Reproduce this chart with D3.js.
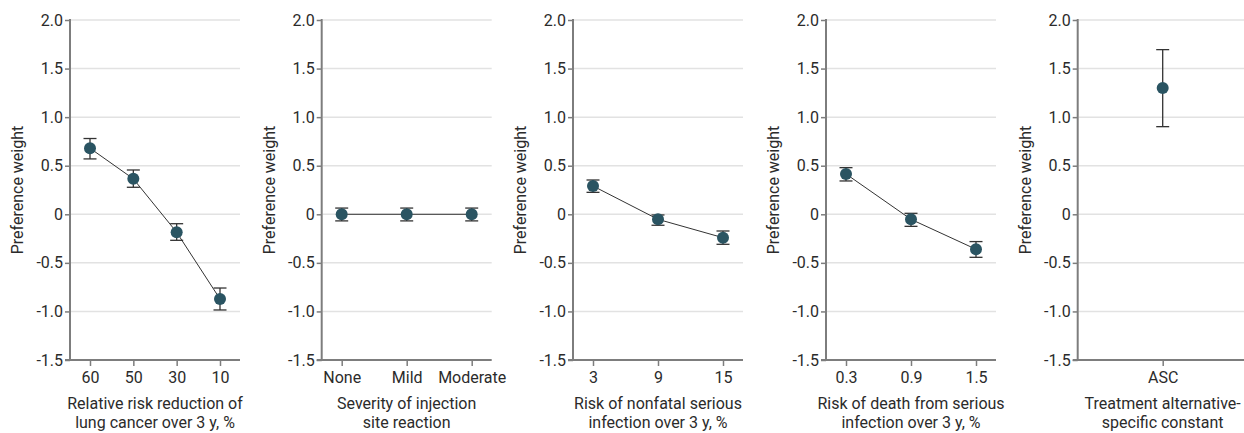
<!DOCTYPE html>
<html>
<head>
<meta charset="utf-8">
<script src="https://cdn.jsdelivr.net/npm/d3@7/dist/d3.min.js"></script>
<style>
  html, body { margin: 0; padding: 0; background: #fff; }
  svg { display: block; }
  text { font-family: Roboto, "Open Sans", sans-serif; fill: #2b2b2b; }
</style>
</head>
<body>
<svg id="chart" width="1244" height="433"></svg>
<script>
// ---- Data ----
const yTicks = [2.0, 1.5, 1.0, 0.5, 0, -0.5, -1.0, -1.5];
const yTickLabels = ["2.0", "1.5", "1.0", "0.5", "0", "-0.5", "-1.0", "-1.5"];

const p1Categories = ["60", "50", "30", "10"];
const p1Values = [0.68, 0.365, -0.185, -0.872];
const p1Lower = [0.57, 0.278, -0.268, -0.985];
const p1Upper = [0.78, 0.456, -0.097, -0.759];
const p1Title = ["Relative risk reduction of", "lung cancer over 3 y, %"];

const p2Categories = ["None", "Mild", "Moderate"];
const p2Values = [0, 0, 0];
const p2Lower = [-0.068, -0.068, -0.068];
const p2Upper = [0.064, 0.064, 0.064];
const p2Title = ["Severity of injection", "site reaction"];

const p3Categories = ["3", "9", "15"];
const p3Values = [0.291, -0.052, -0.241];
const p3Lower = [0.226, -0.113, -0.309];
const p3Upper = [0.353, -0.007, -0.172];
const p3Title = ["Risk of nonfatal serious", "infection over 3 y, %"];

const p4Categories = ["0.3", "0.9", "1.5"];
const p4Values = [0.415, -0.052, -0.36];
const p4Lower = [0.343, -0.124, -0.443];
const p4Upper = [0.48, 0.01, -0.281];
const p4Title = ["Risk of death from serious", "infection over 3 y, %"];

const p5Categories = ["ASC"];
const p5Values = [1.30];
const p5Lower = [0.902];
const p5Upper = [1.695];
const p5Title = ["Treatment alternative-", "specific constant"];

const panels = [
  { cats: p1Categories, vals: p1Values, lo: p1Lower, hi: p1Upper, title: p1Title, line: true },
  { cats: p2Categories, vals: p2Values, lo: p2Lower, hi: p2Upper, title: p2Title, line: true },
  { cats: p3Categories, vals: p3Values, lo: p3Lower, hi: p3Upper, title: p3Title, line: true },
  { cats: p4Categories, vals: p4Values, lo: p4Lower, hi: p4Upper, title: p4Title, line: true },
  { cats: p5Categories, vals: p5Values, lo: p5Lower, hi: p5Upper, title: p5Title, line: false }
];

// ---- Layout ----
const svg = d3.select("#chart");
const panelLefts = [70, 321.7, 573, 826, 1077.7];
const panelWidth = 170;
const plotTop = 20, plotBottom = 360;
const dotColor = "#2a5462";
const axisColor = "#7d7d7d";
const gridColor = "#e2e2e2";
const barColor = "#333";
const fontSize = "16px";

const y = d3.scaleLinear().domain([-1.5, 2.0]).range([plotBottom, plotTop]);

panels.forEach((p, i) => {
  const g = svg.append("g").attr("transform", `translate(${panelLefts[i]},0)`);
  const x = d3.scalePoint().domain(p.cats).range(p.cats.length > 1 ? [20, 150] : [85, 85]);

  // grid lines
  g.selectAll("line.grid").data(yTicks.filter(t => t !== -1.5)).enter().append("line")
    .attr("class", "grid")
    .attr("x1", 1).attr("x2", panelWidth)
    .attr("y1", d => y(d)).attr("y2", d => y(d))
    .attr("stroke", gridColor).attr("stroke-width", 1.5);

  // y axis
  const yAxis = d3.axisLeft(y).tickValues(yTicks)
    .tickFormat((d, k) => yTickLabels[k]).tickSize(5).tickPadding(2);
  const ya = g.append("g").call(yAxis);
  ya.select(".domain").remove();
  ya.selectAll(".tick line").attr("stroke", axisColor).attr("stroke-width", 1.5);
  ya.selectAll(".tick text").style("font-size", fontSize).attr("fill", "#2b2b2b")
    .style("font-family", "Roboto, sans-serif");

  g.append("line").attr("x1", 0).attr("x2", 0).attr("y1", plotTop - 1).attr("y2", plotBottom)
    .attr("stroke", axisColor).attr("stroke-width", 2);

  // x axis
  const xa = g.append("g").attr("transform", `translate(0,${plotBottom})`)
    .call(d3.axisBottom(x).tickSize(6).tickPadding(6));
  xa.select(".domain").remove();
  xa.selectAll(".tick line").attr("stroke", axisColor).attr("stroke-width", 1.5);
  xa.selectAll(".tick text").style("font-size", fontSize).attr("fill", "#2b2b2b")
    .style("font-family", "Roboto, sans-serif");
  g.append("line").attr("x1", -5).attr("x2", panelWidth).attr("y1", plotBottom).attr("y2", plotBottom)
    .attr("stroke", axisColor).attr("stroke-width", 2);

  // y label
  g.append("text")
    .attr("transform", `translate(-47,${(plotTop + plotBottom) / 2}) rotate(-90)`)
    .attr("text-anchor", "middle")
    .style("font-size", fontSize)
    .text("Preference weight");

  // x title
  const t = g.append("text").attr("text-anchor", "middle").style("font-size", fontSize);
  p.title.forEach((line, k) => {
    t.append("tspan").attr("x", 85).attr("y", 409 + k * 19).text(line);
  });

  const data = p.cats.map((c, k) => ({ c, v: p.vals[k], lo: p.lo[k], hi: p.hi[k] }));

  // connecting line
  if (p.line) {
    g.append("path").datum(data)
      .attr("d", d3.line().x(d => x(d.c)).y(d => y(d.v)))
      .attr("fill", "none").attr("stroke", "#333").attr("stroke-width", 1);
  }

  // error bars
  const eb = g.selectAll("g.eb").data(data).enter().append("g");
  eb.append("line").attr("x1", d => x(d.c)).attr("x2", d => x(d.c))
    .attr("y1", d => y(d.lo)).attr("y2", d => y(d.hi))
    .attr("stroke", barColor).attr("stroke-width", 1.3);
  eb.append("line").attr("x1", d => x(d.c) - 6.5).attr("x2", d => x(d.c) + 6.5)
    .attr("y1", d => y(d.hi)).attr("y2", d => y(d.hi))
    .attr("stroke", barColor).attr("stroke-width", 1.3);
  eb.append("line").attr("x1", d => x(d.c) - 6.5).attr("x2", d => x(d.c) + 6.5)
    .attr("y1", d => y(d.lo)).attr("y2", d => y(d.lo))
    .attr("stroke", barColor).attr("stroke-width", 1.3);

  // points
  g.selectAll("circle.pt").data(data).enter().append("circle")
    .attr("cx", d => x(d.c)).attr("cy", d => y(d.v)).attr("r", 6)
    .attr("fill", dotColor);
});
</script>
</body>
</html>
